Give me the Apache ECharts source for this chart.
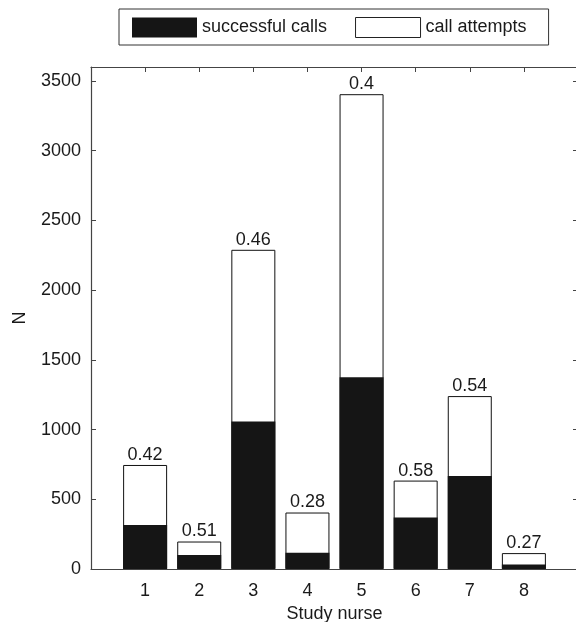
<!DOCTYPE html>
<html>
<head>
<meta charset="utf-8">
<script src="https://cdn.jsdelivr.net/npm/echarts@6/dist/echarts.min.js"></script>
<style>html,body{margin:0;padding:0;background:#fff}#c{width:576px;height:622px}</style>
</head>
<body>
<div id="c"></div>
<script>
var nurses = [1, 2, 3, 4, 5, 6, 7, 8];
var callAttempts = [746, 197, 2289, 405, 3405, 634, 1240, 114];
var successfulCalls = [315, 101, 1058, 116, 1375, 370, 667, 32];
var ratioLabels = ['0.42', '0.51', '0.46', '0.28', '0.4', '0.58', '0.54', '0.27'];
var yTicks = [0, 500, 1000, 1500, 2000, 2500, 3000, 3500];

var font = 'Liberation Sans, Arial, Helvetica, sans-serif';
var txt = '#1a1a1a';
var axisCol = '#444';

function frameAxisCommon() {
  return {
    axisLine: {show: true, onZero: false, lineStyle: {color: axisCol, width: 1.2}},
    axisTick: {show: true, inside: true, length: 5, lineStyle: {color: axisCol}},
    splitLine: {show: false}
  };
}

var chart = echarts.init(document.getElementById('c'), null, {renderer: 'canvas'});
chart.setOption({
  animation: false,
  backgroundColor: '#fff',
  textStyle: {fontFamily: font},
  legend: {
    left: 119, top: 9,
    data: [
      {name: 'successful calls', itemStyle: {borderWidth: 0}},
      {name: 'call attempts', itemStyle: {borderWidth: 1, borderColor: '#222'}}
    ],
    itemWidth: 65, itemHeight: 20, itemGap: 28,
    borderColor: '#333', borderWidth: 1,
    padding: [8, 22, 7, 13],
    icon: 'rect',
    textStyle: {fontSize: 18, color: txt, fontFamily: font}
  },
  grid: {left: 91, top: 67, width: 487, height: 502, containLabel: false, outerBoundsMode: 'none'},
  xAxis: [Object.assign(frameAxisCommon(), {
    type: 'value', min: 0, max: 9, interval: 1, position: 'bottom',
    name: 'Study nurse', nameLocation: 'middle', nameGap: 28,
    nameTextStyle: {fontSize: 18, color: txt, fontFamily: font},
    axisLabel: {fontSize: 18, color: txt, margin: 13, showMinLabel: false, showMaxLabel: false,
      formatter: function (v) { return nurses.indexOf(v) >= 0 ? String(v) : ''; }}
  }), Object.assign(frameAxisCommon(), {
    type: 'value', min: 0, max: 9, interval: 1, position: 'top',
    axisLabel: {show: false}
  })],
  yAxis: [Object.assign(frameAxisCommon(), {
    type: 'value', min: 0, max: 3600, interval: 500, position: 'left',
    name: 'N', nameLocation: 'middle', nameGap: 62, nameRotate: 90,
    nameTextStyle: {fontSize: 18, color: txt, fontFamily: font},
    axisLabel: {fontSize: 18, color: txt, margin: 10, showMaxLabel: false,
      formatter: function (v) { return yTicks.indexOf(v) >= 0 ? String(v) : ''; }}
  }), Object.assign(frameAxisCommon(), {
    type: 'value', min: 0, max: 3600, interval: 500, position: 'right',
    axisLabel: {show: false}
  })],
  series: [{
    name: 'call attempts', type: 'bar', xAxisIndex: 0, yAxisIndex: 0,
    barWidth: 44, barGap: '-100%',
    data: nurses.map(function (n, i) { return [n, callAttempts[i]]; }),
    itemStyle: {color: '#ffffff', borderColor: '#111', borderWidth: 1},
    label: {show: true, position: 'top', distance: 1, fontSize: 18, color: txt, fontFamily: font,
      formatter: function (p) { return ratioLabels[p.dataIndex]; }},
    z: 2
  }, {
    name: 'successful calls', type: 'bar', xAxisIndex: 0, yAxisIndex: 0,
    barWidth: 44, barGap: '-100%',
    data: nurses.map(function (n, i) { return [n, successfulCalls[i]]; }),
    itemStyle: {color: '#151515', borderColor: '#151515', borderWidth: 0},
    z: 3
  }]
});
</script>
</body>
</html>
